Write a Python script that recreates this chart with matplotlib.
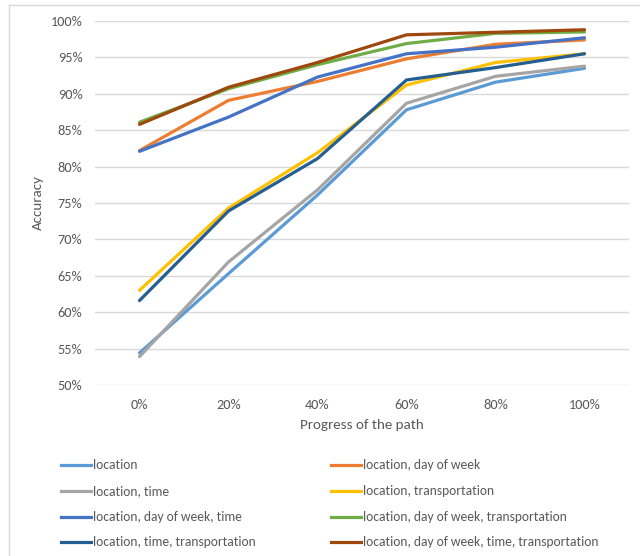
import matplotlib
matplotlib.use("Agg")
import matplotlib.pyplot as plt
from matplotlib.lines import Line2D
from matplotlib.ticker import PercentFormatter

progress = ["0%", "20%", "40%", "60%", "80%", "100%"]

loc = [54.4, 65.3, 76.1, 87.8, 91.6, 93.5]
loc_dow = [82.2, 89.1, 91.7, 94.8, 96.8, 97.4]
loc_time = [53.9, 66.9, 76.8, 88.7, 92.4, 93.8]
loc_trans = [63.0, 74.3, 81.9, 91.2, 94.3, 95.5]
loc_dow_time = [82.1, 86.8, 92.3, 95.5, 96.4, 97.7]
loc_dow_trans = [86.1, 90.7, 94.0, 96.9, 98.3, 98.5]
loc_time_trans = [61.6, 73.9, 81.1, 91.9, 93.6, 95.5]
loc_all = [85.8, 90.9, 94.3, 98.1, 98.45, 98.8]

series_names = [
    "location",
    "location, day of week",
    "location, time",
    "location, transportation",
    "location, day of week, time",
    "location, day of week, transportation",
    "location, time, transportation",
    "location, day of week, time, transportation",
]
series_values = [loc, loc_dow, loc_time, loc_trans,
                 loc_dow_time, loc_dow_trans, loc_time_trans, loc_all]
colors = ["#5B9BD5", "#ED7D31", "#A5A5A5", "#FFC000",
          "#4472C4", "#70AD47", "#255E91", "#9E480E"]

plt.rcParams["font.family"] = ["Carlito", "Lato", "DejaVu Sans"]

text_color = "#595959"
W, H = 640, 556
fig = plt.figure(figsize=(W / 100, H / 100), dpi=100)
ax = fig.add_axes([95 / W, 1 - 385 / H, (629 - 95) / W, (385 - 21) / H])

x = list(range(len(progress)))
lw = 2.3
for name, vals, c in zip(series_names, series_values, colors):
    ax.plot(x, [v / 100 for v in vals], color=c, lw=lw, label=name,
            solid_joinstyle="round", solid_capstyle="round")

ax.set_xlim(-0.5, len(progress) - 0.5)
ax.set_ylim(0.5, 1.0)
ax.set_yticks([0.5 + 0.05 * i for i in range(11)])
ax.yaxis.set_major_formatter(PercentFormatter(1.0, decimals=0))
ax.set_xticks(x)
ax.set_xticklabels(progress)
ax.grid(axis="y", color="#D9D9D9", lw=1)
ax.set_axisbelow(True)
for s in ax.spines.values():
    s.set_visible(False)
ax.tick_params(length=0, labelsize=10.3, colors=text_color)
ax.tick_params(axis="y", pad=9)
ax.tick_params(axis="x", pad=10)

ax.set_xlabel("Progress of the path", fontsize=10.8, color=text_color, va="center")
ax.xaxis.set_label_coords(0.5, (385 - 425) / 364)
ax.set_ylabel("Accuracy", fontsize=10.8, color=text_color, va="center")
ax.yaxis.set_label_coords((38 - 95) / 534, 0.5)

# legend: two columns, filled row by row
col_x = [61, 331]
row_y = [465, 491, 517, 542]
for i, (name, c) in enumerate(zip(series_names, colors)):
    px = col_x[i % 2]
    py = row_y[i // 2]
    fy = 1 - py / H
    fig.add_artist(Line2D([px / W, (px + 30) / W], [fy, fy], color=c, lw=lw))
    fig.text((px + 32) / W, fy, name, fontsize=9.75, color=text_color,
             va="center", ha="left")

# chart area border
fig.add_artist(Line2D([9 / W, 9 / W], [0, 1 - 5 / H], color="#D9D9D9", lw=1))
fig.add_artist(Line2D([9 / W, 1], [1 - 5 / H, 1 - 5 / H], color="#D9D9D9", lw=1))

fig.savefig("out.png", dpi=100)
